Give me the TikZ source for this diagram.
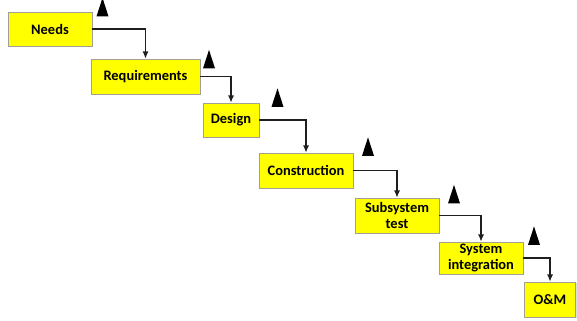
\documentclass[tikz,border=0pt]{standalone}
\usepackage{fontspec}
\setmainfont{Carlito}
\usepackage{tikz}
\usetikzlibrary{arrows.meta,positioning,shapes.geometric,shadows}
\definecolor{stageyellow}{RGB}{255,255,0}
\definecolor{stageedge}{RGB}{160,160,150}
\definecolor{lineblack}{RGB}{30,30,30}
\tikzset{
  stagebox/.style={draw=stageedge,fill=stageyellow,line width=0.6pt,
    drop shadow={opacity=0.25,shadow xshift=1.2pt,shadow yshift=-1.2pt},
    inner sep=0pt,align=center,font=\fontsize{14.5}{17}\selectfont\bfseries},
  stagearrow/.style={-{Latex[length=2.6mm,width=2.2mm]},line width=1.4pt,draw=lineblack},
  marker/.style={isosceles triangle,isosceles triangle apex angle=36,
    shape border rotate=90,fill=black,draw=none,inner sep=0pt,
    minimum width=12bp,minimum height=18bp},
}
\begin{document}
\begin{tikzpicture}[x=1bp,y=-1bp]
        \useasboundingbox (0,0) rectangle (577,320);
        \node[stagebox,minimum width=84bp,minimum height=34bp] (needs) at (50,29) {Needs};
        \node[stagebox,minimum width=109bp,minimum height=35bp] (req) at (145.5,76.5) {Requirements};
        \node[stagebox,minimum width=56bp,minimum height=34bp] (design) at (231,120) {Design};
        \node[stagebox,minimum width=94bp,minimum height=35bp] (constr) at (306,170.5) {Construction};
        \node[stagebox,minimum width=84bp,minimum height=35bp] (subtest) at (397,215.5) {Subsystem\\test};
        \node[stagebox,minimum width=84bp,minimum height=32bp] (sysint) at (481,258) {System\\integration};
        \node[stagebox,minimum width=51bp,minimum height=35bp] (om) at (550,299.5) {O\&M};
        % milestone markers
        \node[marker] (m1) at (102.5,12) {};
        \node[marker] (m2) at (209,64) {};
        \node[marker] (m3) at (277.5,102.5) {};
        \node[marker] (m4) at (368,151.5) {};
        \node[marker] (m5) at (454,199) {};
        \node[marker] (m6) at (534,240.5) {};
        \draw[stagearrow] (needs.east) -| (req.north);
        \draw[stagearrow] (req.east) -| (design.north);
        \draw[stagearrow] (design.east) -| (constr.north);
        \draw[stagearrow] (constr.east) -| (subtest.north);
        \draw[stagearrow] (subtest.east) -| (sysint.north);
        \draw[stagearrow] (sysint.east) -| (om.north);
      \end{tikzpicture}
\end{document}
